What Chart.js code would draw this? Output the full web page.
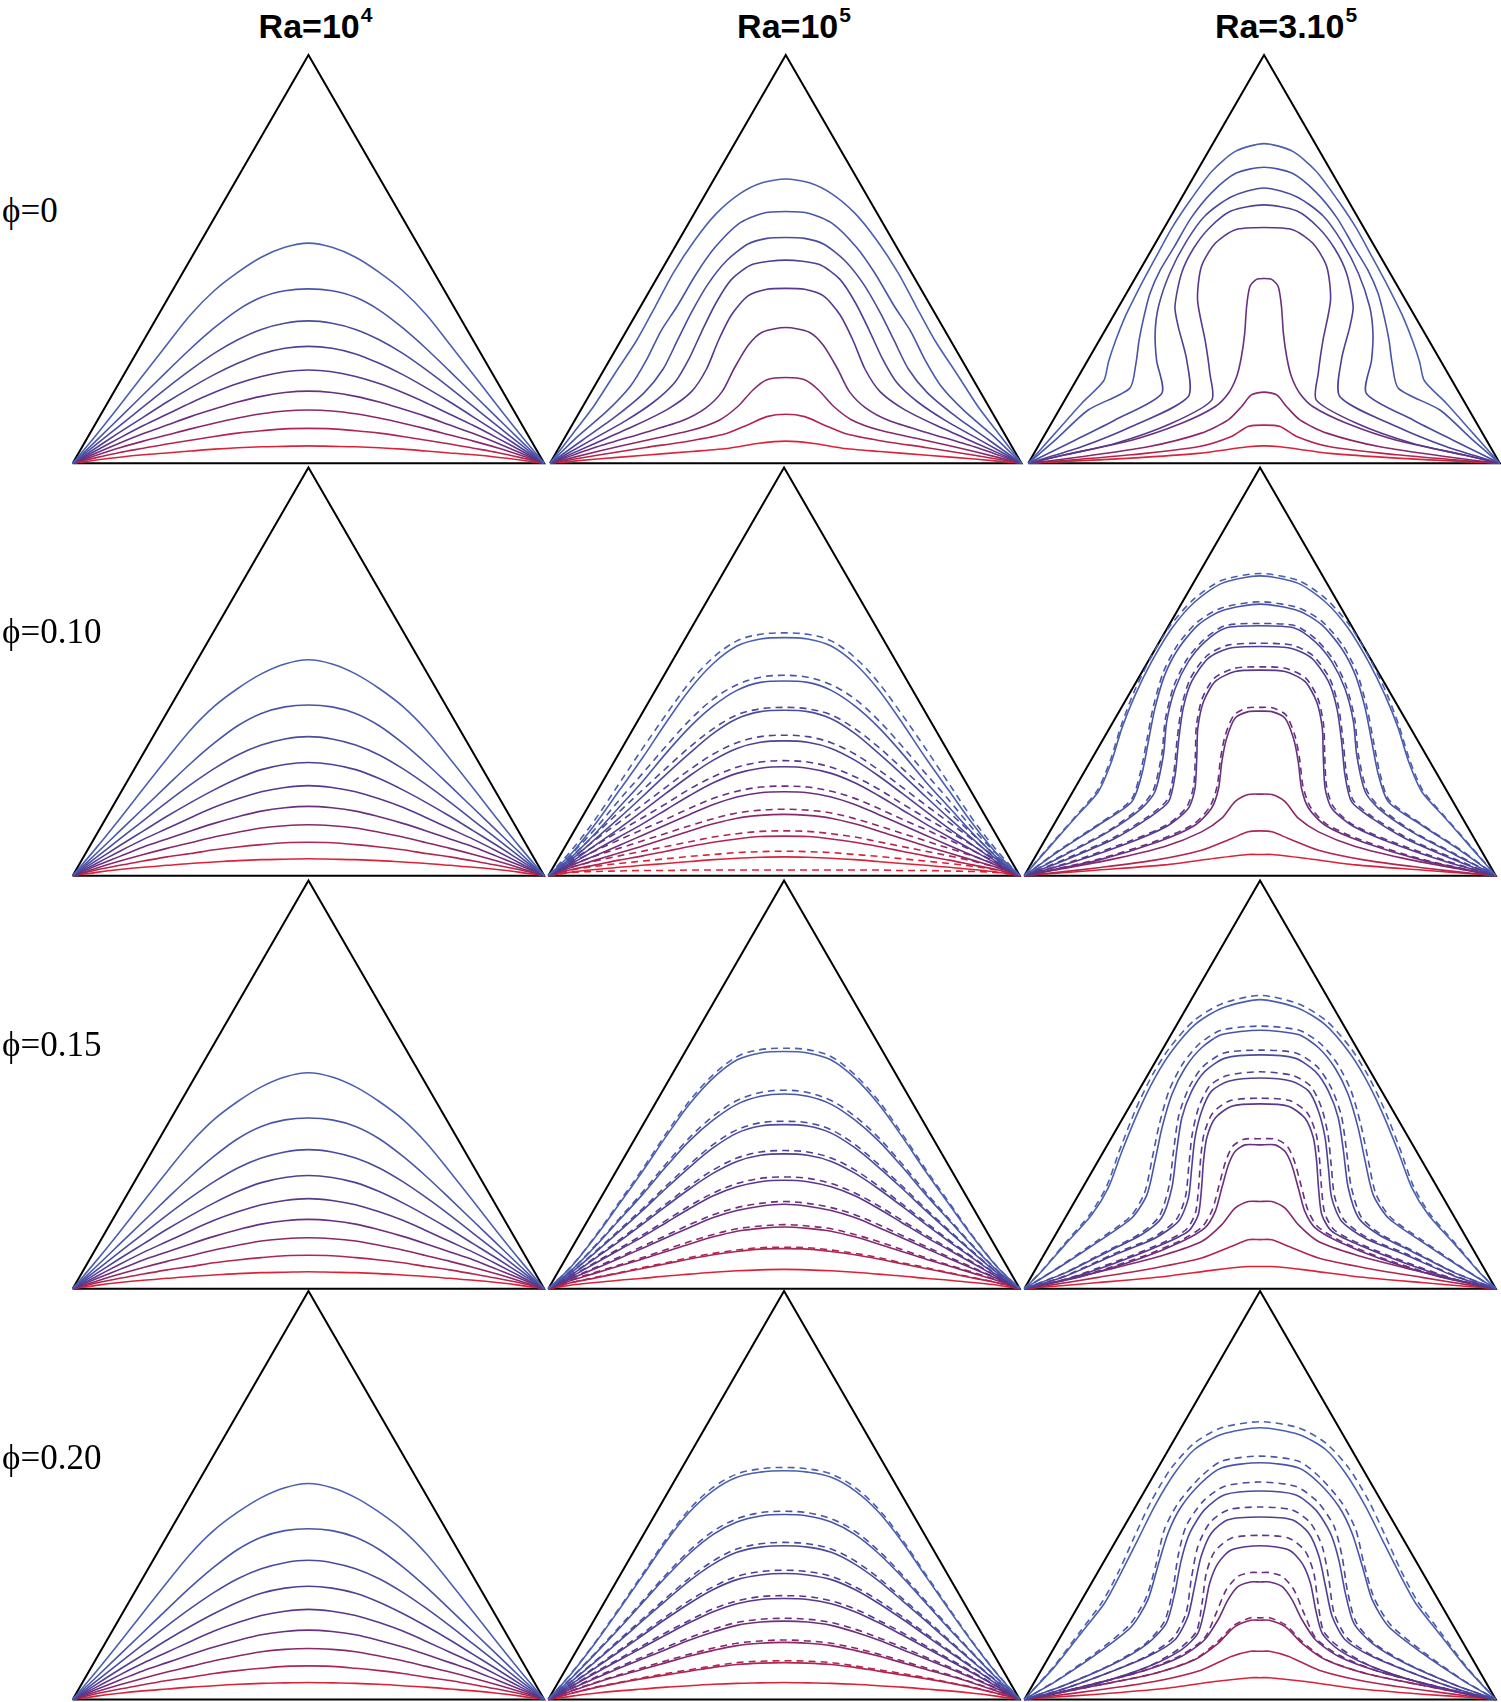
<!DOCTYPE html>
<html>
<head>
<meta charset="utf-8">
<script src="https://cdn.jsdelivr.net/npm/chart.js@4.4.1/dist/chart.umd.min.js"></script>
<style>
  body { margin: 0; background: #fff; width: 1501px; height: 1702px; position: relative; overflow: hidden; }
  canvas.panel { position: absolute; }
  .title { position: absolute; top: 9px; font: bold 34px "Liberation Sans", Arial, sans-serif; line-height: 1; color: #000; white-space: nowrap; transform: translateX(-50%); }
  .title .sup { font-size: 21px; position: relative; top: -16px; margin-left: 1px; }
  .rowlabel { position: absolute; left: 2px; font: 35px "Liberation Serif", "Times New Roman", serif; line-height: 1; color: #000; white-space: nowrap; }
</style>
</head>
<body>
<script>
// ─── LABELS ───────────────────────────────────────────────────────────────────
const colTitles = ['Ra=10', 'Ra=10', 'Ra=3.10'];
const colSups   = ['4', '5', '5'];
const rowLabels = ['ϕ=0', 'ϕ=0.10', 'ϕ=0.15', 'ϕ=0.20'];

// contour colours, hot (bottom) = red, cold (top) = blue
const lineColors = ['#4a5fb0', '#4854a8', '#4a4a9e', '#4f4096', '#58378c', '#6b2f7f', '#8a286a', '#b2254e', '#dc2238'];

// x positions (fraction of base) for the simple arch-shaped isotherms, left half
const halfX = [0, 0.05, 0.1, 0.15, 0.2, 0.25, 0.3, 0.35, 0.4, 0.45, 0.5];

// ─── Ra = 1e4 (heights at halfX) ─────────────────────────────────────────────
const ra4Phi0 = [
    [0, .060, .123, .188, .252, .315, .366, .405, .437, .458, .467],
    [0, .048, .097, .146, .195, .243, .287, .325, .352, .366, .370],
    [0, .040, .080, .120, .160, .198, .233, .262, .284, .297, .302],
    [0, .033, .066, .098, .130, .160, .188, .212, .232, .244, .248],
    [0, .027, .054, .080, .104, .128, .150, .169, .184, .194, .198],
    [0, .022, .043, .063, .081, .099, .115, .130, .142, .150, .153],
    [0, .017, .033, .047, .060, .073, .085, .096, .105, .111, .113],
    [0, .012, .023, .032, .041, .049, .057, .064, .069, .073, .074],
    [0, .007, .013, .018, .022, .026, .030, .033, .035, .036, .037],
];
// rows phi = 0.10 / 0.15 / 0.20 look the same within a pixel
const ra4PhiNano = [
    [0, .059, .121, .185, .248, .309, .359, .397, .428, .449, .458],
    [0, .047, .095, .143, .191, .238, .281, .318, .344, .358, .362],
    [0, .039, .078, .117, .156, .193, .227, .256, .277, .290, .295],
    [0, .032, .064, .095, .126, .155, .182, .206, .225, .236, .240],
    [0, .026, .052, .077, .100, .123, .145, .163, .178, .187, .191],
    [0, .021, .041, .061, .078, .095, .111, .125, .137, .144, .147],
    [0, .016, .031, .045, .058, .070, .082, .092, .101, .106, .108],
    [0, .012, .022, .031, .040, .047, .055, .061, .066, .070, .071],
    [0, .007, .013, .018, .022, .026, .029, .032, .034, .035, .036],
];

// ─── Ra = 1e5 ─────────────────────────────────────────────────────────────────
// phi = 0 : [x, y] points, corner -> centre
const ra5Phi0 = [
    [[0,0],[.05,.065],[.092,.12],[.138,.191],[.184,.261],[.223,.332],[.261,.403],[.307,.473],[.353,.53],[.403,.572],[.45,.595],[.5,.603]],
    [[0,0],[.06,.058],[.12,.11],[.17,.163],[.205,.22],[.235,.28],[.269,.332],[.311,.403],[.35,.458],[.4,.508],[.45,.53],[.5,.534]],
    [[0,0],[.07,.05],[.14,.1],[.2,.15],[.24,.2],[.27,.26],[.3,.32],[.335,.38],[.375,.43],[.42,.465],[.46,.477],[.5,.479]],
    [[0,0],[.08,.045],[.16,.09],[.22,.13],[.265,.172],[.295,.222],[.322,.28],[.352,.34],[.385,.39],[.43,.422],[.5,.431]],
    [[0,0],[.09,.04],[.18,.08],[.25,.115],[.3,.152],[.332,.2],[.357,.26],[.385,.315],[.42,.355],[.46,.369],[.5,.371]],
    [[0,0],[.1,.035],[.2,.065],[.28,.09],[.33,.117],[.365,.152],[.39,.2],[.42,.25],[.45,.278],[.5,.288]],
    [[0,0],[.1,.025],[.2,.048],[.3,.07],[.36,.092],[.4,.122],[.43,.155],[.46,.177],[.5,.182]],
    [[0,0],[.1,.017],[.2,.033],[.3,.048],[.37,.062],[.42,.082],[.46,.099],[.5,.104]],
    [[0,0],[.1,.009],[.2,.017],[.3,.025],[.38,.032],[.44,.042],[.5,.047]],
];
// phi > 0 : heights at halfX, solid + dashed
const ra5Phi10 = [
    [0, .048, .110, .180, .250, .325, .395, .450, .487, .502, .505],
    [0, .040, .090, .145, .200, .260, .315, .360, .393, .410, .413],
    [0, .035, .078, .122, .168, .215, .260, .302, .333, .348, .351],
    [0, .030, .065, .100, .137, .175, .212, .245, .270, .283, .286],
    [0, .026, .054, .082, .110, .140, .170, .197, .217, .228, .231],
    [0, .022, .043, .064, .086, .108, .130, .151, .167, .176, .178],
    [0, .018, .033, .048, .063, .079, .095, .110, .122, .128, .130],
    [0, .013, .023, .033, .042, .052, .062, .071, .078, .083, .084],
    [0, .008, .013, .018, .022, .026, .030, .034, .037, .039, .040],
];
const ra5Phi10Dash = [
    [0, .055, .120, .195, .270, .342, .410, .463, .498, .512, .515],
    [0, .047, .100, .160, .217, .275, .330, .375, .405, .421, .425],
    [0, .042, .088, .135, .182, .228, .273, .312, .341, .354, .357],
    [0, .037, .076, .113, .150, .188, .225, .258, .282, .295, .298],
    [0, .033, .064, .094, .123, .153, .184, .210, .230, .241, .244],
    [0, .028, .053, .076, .098, .120, .143, .164, .179, .188, .190],
    [0, .023, .042, .058, .074, .090, .106, .121, .133, .139, .141],
    [0, .018, .031, .042, .052, .062, .072, .082, .089, .094, .095],
    [0, .012, .020, .026, .031, .036, .041, .045, .049, .051, .052],
    [0, .007, .009, .010, .011, .011, .012, .012, .012, .012, .012],
];
const ra5Phi15 = [
    [0, .048, .110, .179, .249, .323, .392, .447, .485, .500, .503],
    [0, .040, .090, .145, .200, .259, .314, .358, .391, .408, .413],
    [0, .035, .077, .121, .166, .213, .258, .299, .330, .345, .348],
    [0, .030, .065, .100, .137, .175, .212, .245, .270, .283, .286],
    [0, .026, .054, .082, .110, .140, .170, .197, .216, .227, .230],
    [0, .022, .043, .064, .086, .108, .130, .151, .166, .175, .179],
    [0, .018, .033, .048, .063, .079, .095, .110, .122, .128, .131],
    [0, .013, .023, .033, .043, .053, .063, .072, .079, .084, .085],
    [0, .008, .013, .018, .022, .027, .031, .035, .038, .040, .041],
];
const ra5Phi15Dash = [
    [0, .049, .112, .183, .254, .329, .399, .454, .492, .507, .510],
    [0, .041, .092, .148, .205, .265, .321, .366, .399, .416, .421],
    [0, .036, .079, .124, .170, .218, .264, .306, .337, .352, .355],
    [0, .031, .067, .103, .141, .180, .218, .252, .277, .290, .293],
    [0, .027, .056, .085, .114, .145, .176, .203, .223, .234, .237],
    [0, .023, .045, .067, .090, .113, .136, .157, .172, .181, .185],
    [0, .019, .035, .050, .066, .083, .100, .115, .127, .133, .136],
    [0, .013, .024, .034, .045, .055, .066, .075, .082, .087, .088],
];
const ra5Phi20 = [
    [0, .056, .120, .190, .262, .335, .398, .443, .471, .482, .485],
    [0, .046, .097, .150, .205, .260, .310, .350, .376, .389, .392],
    [0, .039, .080, .123, .167, .210, .252, .287, .312, .323, .326],
    [0, .033, .067, .101, .136, .171, .204, .233, .254, .264, .267],
    [0, .028, .056, .083, .110, .137, .163, .186, .203, .212, .214],
    [0, .023, .045, .066, .086, .106, .126, .143, .157, .164, .166],
    [0, .018, .035, .050, .064, .078, .092, .104, .114, .119, .121],
    [0, .013, .025, .035, .044, .052, .060, .068, .074, .077, .078],
    [0, .007, .013, .018, .022, .026, .029, .032, .034, .035, .036],
];
const ra5Phi20Dash = [
    [0, .057, .122, .193, .266, .340, .404, .450, .478, .489, .492],
    [0, .047, .099, .153, .209, .265, .316, .357, .383, .396, .399],
    [0, .040, .082, .126, .171, .215, .258, .294, .319, .330, .333],
    [0, .034, .069, .104, .140, .176, .210, .239, .261, .271, .274],
    [0, .029, .058, .086, .114, .142, .168, .192, .209, .218, .220],
    [0, .024, .047, .069, .090, .111, .131, .149, .163, .170, .172],
    [0, .019, .036, .052, .067, .082, .096, .109, .119, .124, .126],
    [0, .013, .026, .036, .046, .055, .063, .071, .078, .081, .082],
];

// ─── Ra = 3e5 ([x, y] points, corner -> centre) ──────────────────────────────
const ra35Phi0 = [
    [[0,0],[.057,.064],[.113,.127],[.16,.175],[.17,.215],[.185,.26],[.205,.31],[.222,.345],[.245,.39],[.272,.44],[.305,.5],[.345,.56],[.39,.62],[.44,.662],[.5,.678]],
    [[0,0],[.057,.049],[.127,.113],[.215,.159],[.228,.21],[.235,.261],[.245,.31],[.258,.36],[.28,.41],[.31,.46],[.345,.52],[.39,.575],[.44,.615],[.5,.628]],
    [[0,0],[.099,.049],[.184,.092],[.283,.148],[.272,.219],[.269,.276],[.276,.332],[.3,.403],[.335,.47],[.375,.525],[.43,.565],[.5,.584]],
    [[0,0],[.113,.035],[.219,.078],[.339,.141],[.336,.219],[.318,.29],[.311,.332],[.325,.403],[.35,.455],[.385,.5],[.43,.535],[.5,.548]],
    [[0,0],[.078,.018],[.184,.042],[.304,.085],[.389,.134],[.385,.191],[.375,.261],[.359,.346],[.367,.417],[.396,.466],[.438,.495],[.5,.5]],
    [[0,0],[.078,.018],[.219,.049],[.325,.085],[.396,.12],[.424,.148],[.442,.184],[.452,.226],[.459,.276],[.463,.332],[.47,.375],[.484,.39],[.5,.392]],
    [[0,0],[.113,.014],[.254,.035],[.367,.064],[.424,.092],[.452,.12],[.473,.145],[.5,.151]],
    [[0,0],[.078,.006],[.219,.018],[.36,.035],[.431,.057],[.466,.078],[.5,.081]],
    [[0,0],[.078,.004],[.219,.011],[.36,.021],[.466,.035],[.5,.037]],
];
const ra35Phi10 = [
    [[0,0],[.051,.058],[.107,.122],[.157,.178],[.185,.242],[.207,.313],[.235,.383],[.27,.454],[.313,.525],[.362,.581],[.419,.62],[.5,.636]],
    [[0,0],[.072,.051],[.157,.107],[.228,.157],[.249,.214],[.263,.284],[.277,.355],[.298,.426],[.327,.482],[.369,.532],[.419,.562],[.5,.576]],
    [[0,0],[.086,.044],[.178,.093],[.249,.143],[.277,.178],[.295,.256],[.302,.327],[.32,.397],[.348,.454],[.383,.496],[.426,.525],[.5,.53]],
    [[0,0],[.086,.033],[.192,.079],[.263,.122],[.306,.157],[.32,.214],[.327,.284],[.337,.355],[.355,.412],[.39,.461],[.433,.482],[.5,.486]],
    [[0,0],[.107,.03],[.228,.072],[.306,.107],[.348,.143],[.362,.185],[.366,.256],[.368,.313],[.38,.369],[.405,.412],[.447,.433],[.5,.436]],
    [[0,0],[.157,.033],[.284,.072],[.362,.107],[.397,.143],[.412,.185],[.419,.242],[.429,.291],[.447,.334],[.475,.348],[.5,.349]],
    [[0,0],[.065,.012],[.178,.033],[.298,.062],[.376,.093],[.419,.122],[.447,.157],[.475,.172],[.5,.173]],
    [[0,0],[.051,.005],[.157,.017],[.277,.033],[.376,.054],[.44,.079],[.475,.093],[.5,.095]],
    [[0,0],[.051,.004],[.157,.012],[.298,.023],[.405,.037],[.475,.045],[.5,.045]],
];
const ra35Phi10Dash = [
    [[0,0],[.051,.06],[.107,.124],[.155,.181],[.183,.246],[.205,.317],[.232,.388],[.267,.46],[.31,.531],[.36,.587],[.418,.626],[.5,.641]],
    [[0,0],[.072,.053],[.157,.109],[.226,.16],[.246,.218],[.26,.288],[.274,.36],[.295,.432],[.324,.488],[.367,.538],[.418,.568],[.5,.581]],
    [[0,0],[.086,.046],[.178,.095],[.247,.146],[.274,.182],[.292,.26],[.299,.331],[.317,.402],[.345,.459],[.381,.501],[.425,.53],[.5,.535]],
    [[0,0],[.086,.035],[.192,.082],[.263,.126],[.303,.161],[.317,.218],[.324,.288],[.334,.36],[.352,.418],[.388,.467],[.432,.489],[.5,.493]],
    [[0,0],[.107,.032],[.228,.075],[.306,.11],[.345,.147],[.359,.19],[.363,.26],[.365,.318],[.377,.375],[.403,.419],[.446,.44],[.5,.443]],
    [[0,0],[.157,.035],[.284,.075],[.36,.11],[.394,.147],[.409,.19],[.416,.247],[.426,.297],[.445,.341],[.474,.356],[.5,.357]],
];
const ra35Phi15 = [
    [[0,0],[.037,.037],[.086,.093],[.143,.157],[.178,.214],[.207,.291],[.242,.376],[.277,.447],[.313,.504],[.362,.56],[.419,.595],[.5,.613]],
    [[0,0],[.072,.044],[.157,.1],[.228,.15],[.26,.199],[.277,.27],[.292,.341],[.313,.412],[.341,.468],[.376,.511],[.419,.539],[.5,.548]],
    [[0,0],[.086,.033],[.178,.079],[.249,.115],[.291,.15],[.313,.214],[.323,.291],[.334,.362],[.355,.419],[.383,.461],[.426,.489],[.5,.496]],
    [[0,0],[.086,.026],[.192,.072],[.277,.107],[.327,.143],[.348,.192],[.355,.256],[.362,.32],[.376,.376],[.397,.419],[.433,.44],[.5,.447]],
    [[0,0],[.086,.019],[.192,.054],[.291,.093],[.348,.122],[.369,.157],[.376,.214],[.38,.27],[.387,.32],[.405,.362],[.44,.387],[.5,.392]],
    [[0,0],[.122,.026],[.249,.065],[.334,.1],[.383,.129],[.405,.164],[.419,.214],[.433,.263],[.447,.291],[.468,.305],[.5,.305]],
    [[0,0],[.072,.016],[.192,.044],[.298,.072],[.376,.1],[.419,.136],[.447,.171],[.475,.185],[.5,.185]],
    [[0,0],[.051,.007],[.157,.024],[.277,.044],[.376,.065],[.44,.09],[.475,.104],[.5,.104]],
    [[0,0],[.051,.004],[.157,.013],[.298,.026],[.405,.04],[.475,.047],[.5,.047]],
];
const ra35Phi15Dash = [
    [[0,0],[.037,.038],[.085,.095],[.141,.16],[.175,.218],[.203,.296],[.237,.382],[.272,.454],[.309,.512],[.359,.568],[.418,.604],[.5,.622]],
    [[0,0],[.072,.045],[.155,.102],[.225,.153],[.255,.203],[.271,.275],[.286,.347],[.307,.42],[.336,.477],[.372,.52],[.417,.548],[.5,.557]],
    [[0,0],[.086,.034],[.177,.081],[.246,.117],[.286,.153],[.307,.218],[.317,.296],[.328,.369],[.35,.428],[.379,.471],[.424,.5],[.5,.506]],
    [[0,0],[.086,.027],[.19,.074],[.274,.109],[.322,.146],[.342,.196],[.349,.261],[.356,.327],[.37,.385],[.393,.43],[.43,.452],[.5,.46]],
    [[0,0],[.086,.02],[.19,.056],[.288,.095],[.343,.125],[.363,.161],[.37,.219],[.374,.276],[.381,.328],[.4,.373],[.437,.399],[.5,.404]],
    [[0,0],[.122,.027],[.247,.067],[.331,.102],[.378,.132],[.399,.168],[.413,.219],[.427,.27],[.442,.302],[.466,.317],[.5,.318]],
];
const ra35Phi20 = [
    [[0,0],[.064,.069],[.12,.14],[.17,.204],[.205,.268],[.241,.339],[.276,.409],[.319,.48],[.361,.53],[.418,.562],[.5,.576]],
    [[0,0],[.071,.041],[.156,.098],[.227,.154],[.262,.211],[.283,.282],[.305,.353],[.333,.409],[.375,.459],[.418,.491],[.5,.502]],
    [[0,0],[.085,.03],[.191,.076],[.262,.119],[.301,.161],[.319,.225],[.333,.296],[.351,.353],[.382,.402],[.425,.434],[.5,.442]],
    [[0,0],[.064,.016],[.156,.048],[.262,.091],[.319,.126],[.347,.176],[.361,.239],[.375,.303],[.397,.353],[.432,.381],[.5,.387]],
    [[0,0],[.064,.013],[.156,.034],[.262,.069],[.333,.105],[.368,.14],[.382,.19],[.393,.246],[.411,.289],[.439,.317],[.5,.326]],
    [[0,0],[.05,.009],[.135,.03],[.248,.059],[.333,.091],[.382,.126],[.411,.169],[.432,.211],[.453,.239],[.48,.249],[.5,.249]],
    [[0,0],[.05,.009],[.156,.03],[.276,.055],[.361,.084],[.411,.119],[.446,.154],[.48,.168],[.5,.168]],
    [[0,0],[.05,.006],[.156,.02],[.276,.038],[.375,.062],[.439,.091],[.48,.102],[.5,.102]],
    [[0,0],[.05,.004],[.156,.011],[.297,.023],[.404,.038],[.48,.046],[.5,.046]],
];
const ra35Phi20Dash = [
    [[0,0],[.062,.069],[.117,.142],[.166,.208],[.202,.275],[.234,.346],[.269,.42],[.312,.491],[.361,.544],[.418,.576],[.5,.589]],
    [[0,0],[.071,.042],[.152,.099],[.223,.158],[.258,.215],[.28,.289],[.297,.36],[.326,.416],[.372,.47],[.418,.505],[.5,.516]],
    [[0,0],[.085,.03],[.188,.076],[.258,.119],[.297,.165],[.315,.232],[.326,.303],[.343,.367],[.379,.42],[.425,.452],[.5,.461]],
    [[0,0],[.064,.016],[.156,.048],[.258,.091],[.315,.13],[.343,.183],[.354,.254],[.368,.324],[.393,.374],[.432,.402],[.5,.408]],
    [[0,0],[.064,.013],[.156,.034],[.262,.069],[.329,.108],[.365,.144],[.377,.204],[.386,.268],[.404,.314],[.439,.342],[.5,.348]],
    [[0,0],[.05,.009],[.135,.03],[.248,.059],[.333,.094],[.382,.13],[.407,.183],[.428,.232],[.453,.261],[.48,.269],[.5,.269]],
    [[0,0],[.156,.03],[.276,.055],[.361,.085],[.411,.123],[.446,.158],[.48,.173],[.5,.173]],
];

// ─── LAYOUT (pixels) ──────────────────────────────────────────────────────────
const BASE_W  = 471.5;                       // triangle base in px
const TRI_H   = 0.866;                       // height / base
const PAD     = 6;
const colLeft = [[72.7, 550, 1028.3], [72.7, 548.3, 1024.3], [72.7, 548.3, 1024.3], [72.7, 548.3, 1024.3]];
const rowBase = [463.3, 875.7, 1288.7, 1699.4];
const titleX  = [315.5, 794, 1286];
const labelBaseline = [222, 643, 1056, 1469];

// [solid, dashed, kind] per panel, kind 'grid' = heights at halfX, 'pts' = [x,y] lists
const panels = [
    [[ra4Phi0, null, 'grid'],    [ra5Phi0, null, 'pts'],            [ra35Phi0, null, 'pts']],
    [[ra4PhiNano, null, 'grid'], [ra5Phi10, ra5Phi10Dash, 'grid'],  [ra35Phi10, ra35Phi10Dash, 'pts']],
    [[ra4PhiNano, null, 'grid'], [ra5Phi15, ra5Phi15Dash, 'grid'],  [ra35Phi15, ra35Phi15Dash, 'pts']],
    [[ra4PhiNano, null, 'grid'], [ra5Phi20, ra5Phi20Dash, 'grid'],  [ra35Phi20, ra35Phi20Dash, 'pts']],
];

// ─── HELPERS ──────────────────────────────────────────────────────────────────
function toPoints(line, kind) {
    const half = kind === 'grid'
        ? halfX.map((x, i) => ({ x, y: line[i] }))
        : line.map(([x, y]) => ({ x, y }));
    const mirror = half.slice(0, -1).reverse().map(p => ({ x: 1 - p.x, y: p.y }));
    return half.concat(mirror);
}

function lineSet(line, i, kind, dashed) {
    return {
        data: toPoints(line, kind),
        showLine: true,
        borderColor: lineColors[Math.min(i, lineColors.length - 1)],
        borderWidth: 1.6,
        borderDash: dashed ? [7, 5] : [],
        pointRadius: 0,
        fill: false,
        tension: kind === 'grid' ? 0 : 0.25,
        cubicInterpolationMode: kind === 'grid' ? 'monotone' : 'default',
        clip: false,
    };
}

function drawPanel(r, c) {
    const [solid, dashed, kind] = panels[r][c];
    const cornerX = colLeft[r][c], baseY = rowBase[r];

    const cw = Math.round(BASE_W + 2 * PAD);
    const ch = Math.round(BASE_W * TRI_H + 2 * PAD);
    const left = Math.round(cornerX - PAD);
    const top  = Math.round(baseY - BASE_W * TRI_H - PAD);

    const canvas = document.createElement('canvas');
    canvas.className = 'panel';
    canvas.width = cw; canvas.height = ch;
    canvas.style.left = left + 'px'; canvas.style.top = top + 'px';
    document.body.appendChild(canvas);

    const xMin = -(cornerX - left) / BASE_W;
    const yMax = (baseY - top) / BASE_W;

    const datasets = solid.map((l, i) => lineSet(l, i, kind, false));
    if (dashed) dashed.forEach((l, i) => datasets.push(lineSet(l, i, kind, true)));
    datasets.push({
        data: [{ x: 0, y: 0 }, { x: 0.5, y: TRI_H }, { x: 1, y: 0 }, { x: 0, y: 0 }],
        showLine: true, borderColor: '#000', borderWidth: 2, pointRadius: 0,
        tension: 0, borderJoinStyle: 'miter', clip: false,
    });

    new Chart(canvas.getContext('2d'), {
        type: 'scatter',
        data: { datasets },
        options: {
            responsive: false,
            animation: false,
            events: [],
            layout: { padding: 0 },
            plugins: { legend: { display: false }, tooltip: { enabled: false } },
            scales: {
                x: { type: 'linear', display: false, min: xMin, max: xMin + cw / BASE_W },
                y: { type: 'linear', display: false, min: yMax - ch / BASE_W, max: yMax },
            },
        },
    });
}

// ─── BUILD ────────────────────────────────────────────────────────────────────
for (let r = 0; r < 4; r++) for (let c = 0; c < 3; c++) drawPanel(r, c);

colTitles.forEach((t, i) => {
    const el = document.createElement('div');
    el.className = 'title';
    el.style.left = titleX[i] + 'px';
    el.innerHTML = `${t}<span class="sup">${colSups[i]}</span>`;
    document.body.appendChild(el);
});

rowLabels.forEach((t, i) => {
    const el = document.createElement('div');
    el.className = 'rowlabel';
    el.style.top = (labelBaseline[i] - 29.5) + 'px';
    el.textContent = t;
    document.body.appendChild(el);
});
</script>
</body>
</html>
